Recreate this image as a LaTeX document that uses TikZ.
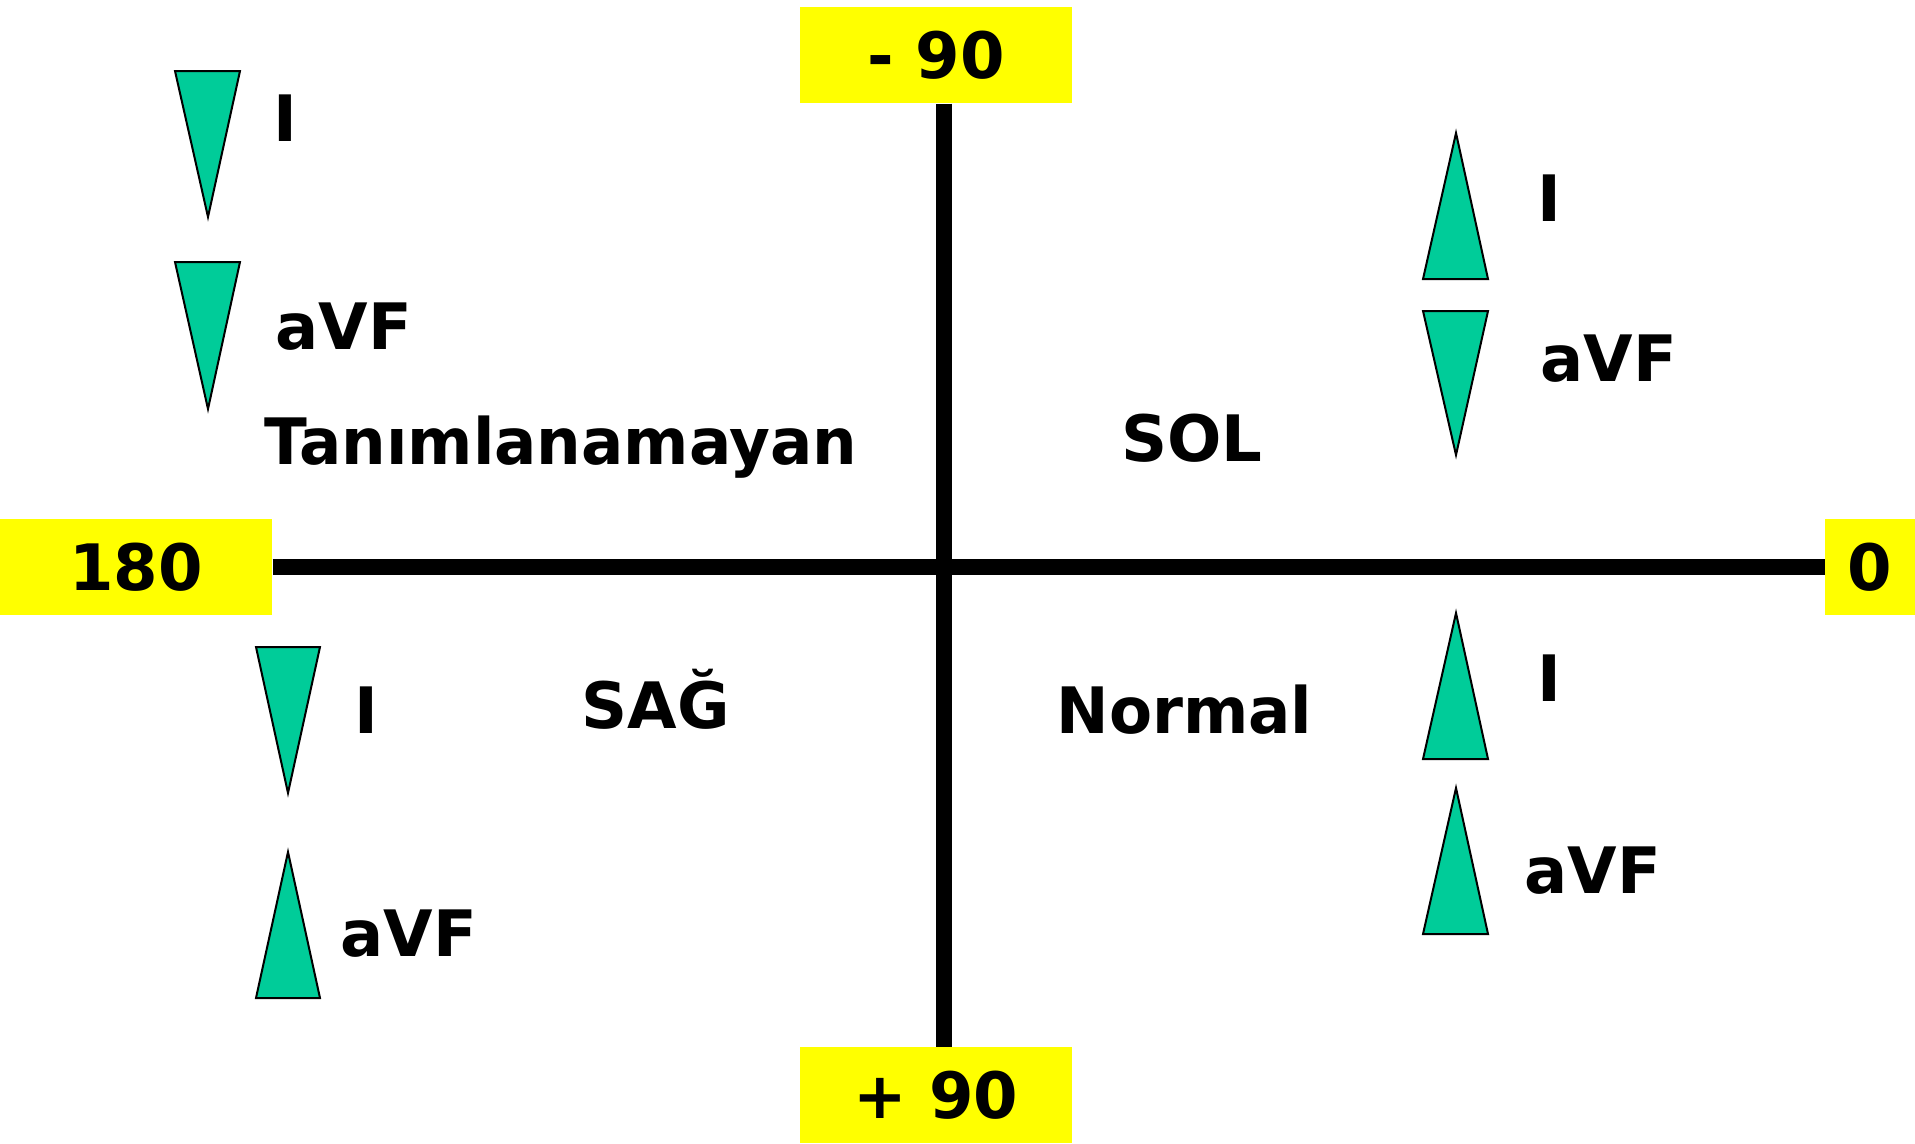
\documentclass[tikz,border=0pt]{standalone}
\usepackage{fontspec}
\setmainfont{DejaVu Sans}
\definecolor{leadfill}{RGB}{0,204,153}
\definecolor{boxyellow}{RGB}{255,255,0}
\tikzset{every picture/.style={line width=0.75pt}}
\tikzset{
  axisbox/.style={fill=boxyellow, inner sep=0pt, minimum height=72pt},
  axisline/.style={line width=11.5pt},
  wave/.style={fill=leadfill, draw=black, line width=1.5pt, line join=miter},
  lbl/.style={anchor=base west, inner sep=0pt}
}

\begin{document}
\begin{tikzpicture}[x=0.75pt,y=0.75pt,yscale=-1,xscale=1, font=\fontsize{48}{58}\selectfont\bfseries]
        \useasboundingbox (0,0) rectangle (1915,1143);

        % Degree boxes
        \node [axisbox, minimum width=204pt] (m90) at (936,55) {- 90};
        \node [axisbox, minimum width=204pt] (p90) at (936,1095) {+ 90};
        \node [axisbox, minimum width=204pt] (d180) at (136,567) {180};
        \node [axisbox, minimum width=67.5pt] (d0) at (1870,567) {0};

        % Axes
        \coordinate (o) at (944,567);
        \draw [axisline] (d180.east) -- (d0.west);
        \draw [axisline] (m90.south -| o) -- (p90.north -| o);

        %Shape: Triangle (upper left, I)
        \draw [wave] (175,71) -- (240,71) -- (208,217) -- cycle;
        %Shape: Triangle (upper left, aVF)
        \draw [wave] (175,262) -- (240,262) -- (208,409) -- cycle;
        %Shape: Triangle (upper right, I)
        \draw [wave] (1456,133) -- (1488,279) -- (1423,279) -- cycle;
        %Shape: Triangle (upper right, aVF)
        \draw [wave] (1423,311) -- (1488,311) -- (1456,455) -- cycle;
        %Shape: Triangle (lower left, I)
        \draw [wave] (256,647) -- (320,647) -- (288,793) -- cycle;
        %Shape: Triangle (lower left, aVF)
        \draw [wave] (288,852) -- (320,998) -- (256,998) -- cycle;
        %Shape: Triangle (lower right, I)
        \draw [wave] (1456,613) -- (1488,759) -- (1423,759) -- cycle;
        %Shape: Triangle (lower right, aVF)
        \draw [wave] (1456,788) -- (1488,934) -- (1423,934) -- cycle;

        % Text Node
        \node [lbl] (ulI) at (273,141) {I};
        \node [lbl] (ulaVF) at (275,349) {aVF};
        \node [lbl] (undef) at (264,464) {\scalebox{0.98}[1]{Tanımlanamayan}};
        % Text Node
        \node [lbl] (urI) at (1537,221) {I};
        \node [lbl] (uraVF) at (1540,381) {aVF};
        \node [lbl] (left) at (1121,461) {SOL};
        % Text Node
        \node [lbl] (llI) at (354,733) {I};
        \node [lbl] (llaVF) at (340,956) {aVF};
        \node [lbl] (right) at (581,728) {SAĞ};
        % Text Node
        \node [lbl] (lrI) at (1537,701) {I};
        \node [lbl] (lraVF) at (1524,893) {aVF};
        \node [lbl] (normal) at (1056,733) {\scalebox{0.98}[1]{Normal}};
\end{tikzpicture}
\end{document}
